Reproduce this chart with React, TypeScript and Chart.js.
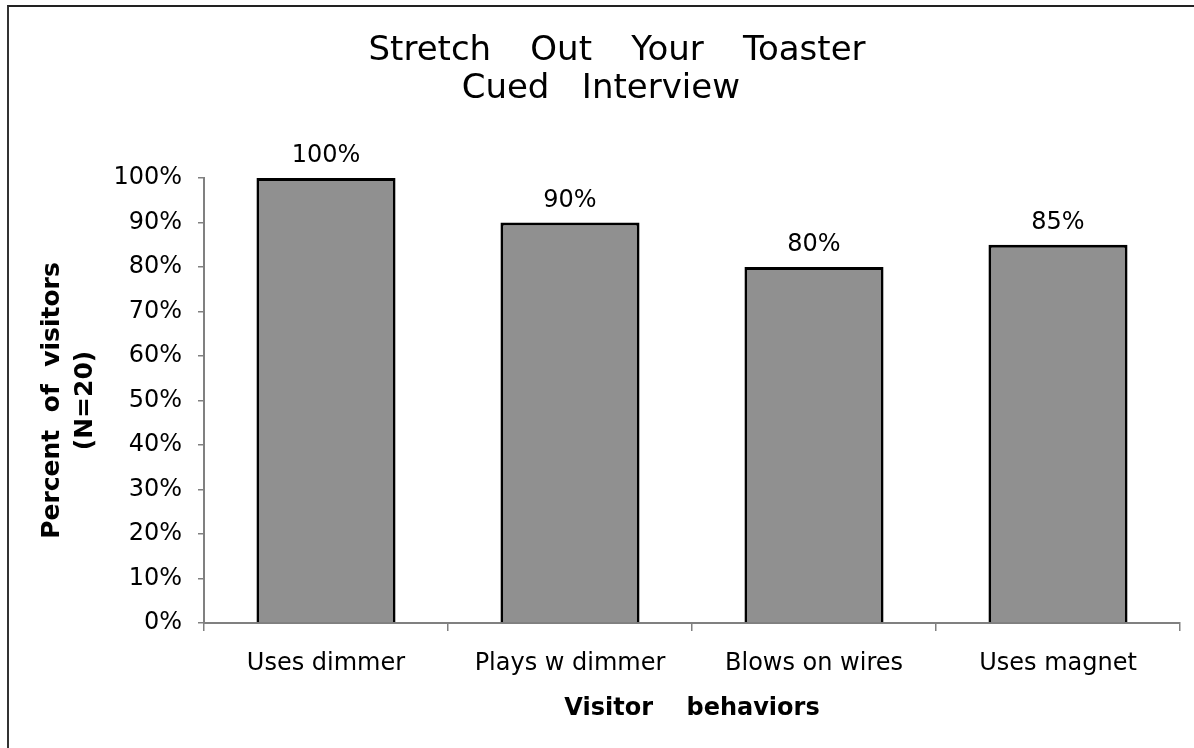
import React, { useEffect, useRef } from 'react';
import { Chart, registerables } from 'chart.js';

Chart.register(...registerables);

const categories = ['Uses dimmer', 'Plays w dimmer', 'Blows on wires', 'Uses magnet'];
const percentVisitors = [100, 90, 80, 85];
const yTickLabels = ['0%', '10%', '20%', '30%', '40%', '50%', '60%', '70%', '80%', '90%', '100%'];
const titleLines = [
  '     Stretch   \u2009Out   \u2009Your   \u2009Toaster',
  '  Cued   Interview',
];
const xAxisTitle = 'Visitor    behaviors';
const yAxisTitle = ['Percent  of  visitors', '(N=20)'];

const FONT = "'DejaVu Sans', sans-serif";

const valueLabels = {
  id: 'valueLabels',
  afterDatasetsDraw(chart: any) {
    const ctx = chart.ctx;
    const meta = chart.getDatasetMeta(0);
    ctx.save();
    ctx.font = `24px ${FONT}`;
    ctx.fillStyle = '#000';
    ctx.textAlign = 'center';
    ctx.textBaseline = 'alphabetic';
    meta.data.forEach((bar: any, i: number) => {
      ctx.fillText(percentVisitors[i] + '%', bar.x, bar.y - 16);
    });
    ctx.restore();
  },
};

export default function App() {
  const ref = useRef<HTMLCanvasElement>(null);

  useEffect(() => {
    if (!ref.current) return;
    Chart.defaults.font.family = FONT;
    Chart.defaults.color = '#000';
    const chart = new Chart(ref.current, {
      type: 'bar',
      data: {
        labels: categories,
        datasets: [
          {
            data: percentVisitors,
            backgroundColor: '#909090',
            borderColor: '#000',
            borderWidth: 3,
            categoryPercentage: 1,
            barPercentage: 0.57,
          },
        ],
      },
      plugins: [valueLabels],
      options: {
        responsive: false,
        animation: false,
        layout: { padding: { left: 0, right: 14, top: 0, bottom: 0 } },
        plugins: {
          legend: { display: false },
          tooltip: { enabled: false },
          title: {
            display: true,
            text: titleLines,
            color: '#000',
            font: { size: 34, weight: 'normal', family: FONT, lineHeight: 38 / 34 },
            padding: { top: 32, bottom: 70 },
          },
        },
        scales: {
          x: {
            offset: true,
            grid: {
              display: true,
              drawOnChartArea: false,
              drawTicks: true,
              tickLength: 8,
              color: '#808080',
              lineWidth: 1.5,
              offset: true,
            },
            border: { display: true, color: '#808080', width: 2 },
            ticks: {
              color: '#000',
              font: { size: 24 },
              padding: 18,
              maxRotation: 0,
              autoSkip: false,
            },
            title: {
              display: true,
              text: xAxisTitle,
              color: '#000',
              font: { size: 24, weight: 'bold', lineHeight: 1.2 },
              padding: { top: 0, bottom: 24.6 },
            },
            afterFit: (s: any) => {
              s.height = 125;
            },
          },
          y: {
            min: 0,
            max: 100,
            grid: {
              drawOnChartArea: false,
              drawTicks: true,
              tickLength: 6,
              color: '#808080',
              lineWidth: 1.5,
            },
            border: { display: true, color: '#808080', width: 2 },
            ticks: {
              stepSize: 10,
              color: '#000',
              font: { size: 24 },
              padding: 16,
              callback: (_v: any, i: number) => yTickLabels[i],
            },
            title: {
              display: true,
              text: yAxisTitle,
              color: '#000',
              font: { size: 25, weight: 'bold', lineHeight: 33 / 25 },
              padding: { top: 35.5, bottom: 0 },
            },
            afterFit: (s: any) => {
              s.width = 204;
            },
          },
        },
      },
    } as any);
    return () => chart.destroy();
  }, []);

  return (
    <div
      style={{
        position: 'fixed',
        left: 0,
        top: 0,
        width: 1194,
        height: 748,
        overflow: 'hidden',
        background: '#fff',
      }}
    >
      <canvas
        ref={ref}
        width={1194}
        height={748}
        style={{ position: 'absolute', left: 0, top: 0, display: 'block' }}
      />
      <div
        style={{
          position: 'absolute',
          left: 7,
          top: 5,
          width: 1300,
          height: 900,
          borderLeft: '2px solid #333',
          borderTop: '2px solid #222',
          pointerEvents: 'none',
        }}
      />
    </div>
  );
}
